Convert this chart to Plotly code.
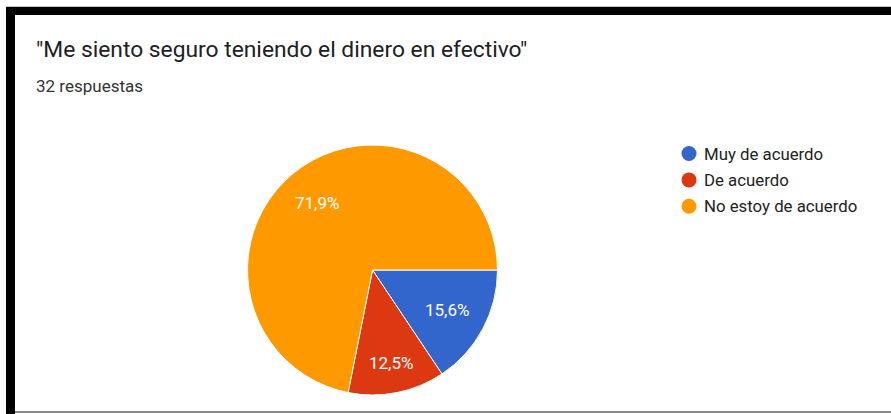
import math
import plotly.graph_objects as go

# Survey answers for the statement
categories = ["Muy de acuerdo", "De acuerdo", "No estoy de acuerdo"]
counts = [5, 4, 23]
colors = ["#3366cc", "#dc3912", "#ff9900"]
title_text = '"Me siento seguro teniendo el dinero en efectivo"'
subtitle_text = "32 respuestas"

W, H = 891, 414
total = sum(counts)
pct_labels = [f"{c / total * 100:.1f}%".replace(".", ",") for c in counts]


def px_x(v):
    return v / W


def px_y(v):
    return 1 - v / H


# pie geometry in pixels
cx, cy, r = 372.5, 270, 125
start_deg = 0  # first slice starts at 3 o'clock, running clockwise

fig = go.Figure()
fig.add_trace(go.Pie(
    labels=categories,
    values=counts,
    textinfo="none",
    sort=False,
    direction="clockwise",
    rotation=90,
    marker=dict(colors=colors, line=dict(color="white", width=1)),
    showlegend=False,
    hoverinfo="label+percent",
    domain=dict(x=[px_x(cx - r), px_x(cx + r)], y=[px_y(cy + r), px_y(cy - r)]),
))

annotations = [
    dict(text=title_text, x=px_x(34), y=px_y(50), xref="paper", yref="paper",
         xanchor="left", yanchor="middle", showarrow=False,
         font=dict(family="Roboto", size=22.8, color="#202124")),
    dict(text=subtitle_text, x=px_x(34), y=px_y(85.5), xref="paper", yref="paper",
         xanchor="left", yanchor="middle", showarrow=False,
         font=dict(family="Roboto", size=17, color="#333333")),
]

# Percentage labels: the outer edge of each label box sits on a fixed radius
label_w, label_h = 44, 16
edge_radius = 0.857 * r
cum = 0
for c, lab in zip(counts, pct_labels):
    mid = math.radians(start_deg + (cum + c / 2) / total * 360)
    cum += c
    ux, uy = math.cos(mid), math.sin(mid)
    support = label_w / 2 * abs(ux) + label_h / 2 * abs(uy)
    d = edge_radius - support
    annotations.append(dict(
        text=lab, x=px_x(cx + d * ux), y=px_y(cy + d * uy), xref="paper", yref="paper",
        xanchor="center", yanchor="middle", showarrow=False,
        font=dict(family="Roboto", size=17, color="white"),
    ))

shapes = [
    # thin grey rule above the frame
    dict(type="rect", xref="paper", yref="paper", x0=px_x(6), x1=1, y0=px_y(7), y1=px_y(6),
         fillcolor="#c8c8c8", line=dict(width=0)),
    # black frame, top
    dict(type="rect", xref="paper", yref="paper", x0=px_x(6), x1=1, y0=px_y(15), y1=px_y(7),
         fillcolor="black", line=dict(width=0)),
    # black frame, left
    dict(type="rect", xref="paper", yref="paper", x0=px_x(6), x1=px_x(15), y0=0, y1=px_y(7),
         fillcolor="black", line=dict(width=0)),
    # grey bottom rule
    dict(type="rect", xref="paper", yref="paper", x0=px_x(15), x1=1, y0=px_y(413), y1=px_y(411),
         fillcolor="#8a8a8a", line=dict(width=0)),
]

# Legend: round swatch followed by the category name
leg_x, leg_y0, leg_step, dot = 689, 153.5, 26.4, 15
for i, (name, col) in enumerate(zip(categories, colors)):
    yy = leg_y0 + i * leg_step
    shapes.append(dict(
        type="circle", xref="paper", yref="paper",
        x0=px_x(leg_x - dot / 2), x1=px_x(leg_x + dot / 2),
        y0=px_y(yy + dot / 2), y1=px_y(yy - dot / 2),
        fillcolor=col, line=dict(width=0),
    ))
    annotations.append(dict(
        text=name, x=px_x(leg_x + 13), y=px_y(yy), xref="paper", yref="paper",
        xanchor="left", yanchor="middle", showarrow=False,
        font=dict(family="Roboto", size=16.8, color="#222222"),
    ))

fig.update_layout(
    width=W, height=H,
    margin=dict(l=0, r=0, t=0, b=0),
    paper_bgcolor="white", plot_bgcolor="white",
    shapes=shapes,
    annotations=annotations,
    showlegend=False,
)

fig.write_html("out.html")
